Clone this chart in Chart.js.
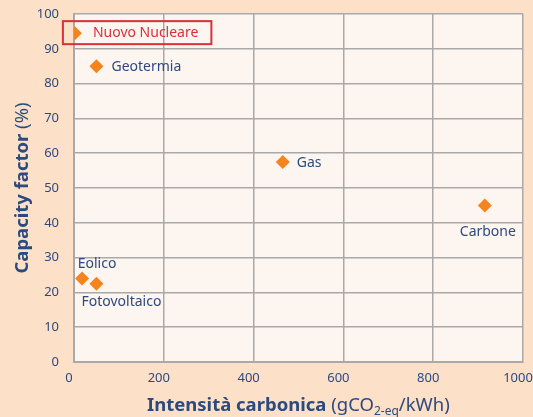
<!DOCTYPE html>
<html>
<head>
<meta charset="utf-8">
<script src="https://cdn.jsdelivr.net/npm/chart.js@4"></script>
<style>
  html, body { margin: 0; padding: 0; background: #fde0c8; }
  #wrap { width: 533px; height: 417px; }
</style>
</head>
<body>
<div id="wrap"><canvas id="cfChart" width="533" height="417"></canvas></div>
<script>
// data
const sources = ['Nuovo Nucleare', 'Geotermia', 'Gas', 'Carbone', 'Eolico', 'Fotovoltaico']
const carbonIntensity = [2, 50, 465, 915, 18, 50]
const capacityFactor = [94.5, 85, 57.5, 45, 24, 22.5]
const xTicks = [0, 200, 400, 600, 800, 1000]
const yTicks = [0, 10, 20, 30, 40, 50, 60, 70, 80, 90, 100]

const blue = '#2b4a7f'
const red = '#d9303a'
const font = '"Noto Sans", "Open Sans", sans-serif'

// where each label sits relative to its point
const labelPos = {
  'Nuovo Nucleare': {dx: 18, dy: 0, align: 'left'},
  'Geotermia': {dx: 15, dy: 1, align: 'left'},
  'Gas': {dx: 14, dy: 1, align: 'left'},
  'Carbone': {dx: 3, dy: 27, align: 'center'},
  'Eolico': {dx: 15, dy: -14, align: 'center'},
  'Fotovoltaico': {dx: 25, dy: 18, align: 'center'}
}

const points = carbonIntensity.map((x, i) => ({x: x, y: capacityFactor[i]}))

const backdrop = {
  id: 'backdrop',
  beforeDraw(chart) {
    const {ctx, chartArea: a} = chart
    ctx.save()
    ctx.fillStyle = '#fdf5ef'
    ctx.fillRect(a.left, a.top, a.right - a.left, a.bottom - a.top)
    ctx.restore()
  }
}

const labels = {
  id: 'labels',
  afterDatasetsDraw(chart) {
    const ctx = chart.ctx
    const xs = chart.scales.x, ys = chart.scales.y
    ctx.save()
    ctx.font = '14px ' + font
    ctx.textBaseline = 'middle'
    sources.forEach((name, i) => {
      const p = labelPos[name]
      const px = xs.getPixelForValue(carbonIntensity[i]) + p.dx
      const py = ys.getPixelForValue(capacityFactor[i]) + p.dy
      ctx.textAlign = p.align
      if (name === 'Nuovo Nucleare') {
        ctx.fillStyle = red
        ctx.fillText(name, px, py)
        const w = ctx.measureText(name).width
        ctx.strokeStyle = red
        ctx.lineWidth = 2
        ctx.strokeRect(xs.getPixelForValue(carbonIntensity[i]) - 12, py - 12, w + 43, 23)
      } else {
        ctx.fillStyle = blue
        ctx.fillText(name, px, py)
      }
    })
    ctx.restore()
  },
  afterDraw(chart) {
    // axis titles with mixed weights and a subscript
    const ctx = chart.ctx
    const a = chart.chartArea
    const big = '18.5px '
    ctx.save()
    ctx.fillStyle = blue
    ctx.textBaseline = 'alphabetic'
    ctx.textAlign = 'left'

    let x = 147, y = 411
    ctx.font = 'bold ' + big + font
    ctx.fillText('Intensità carbonica', x, y)
    x += ctx.measureText('Intensità carbonica ').width
    ctx.font = big + font
    ctx.fillText('(gCO', x, y)
    x += ctx.measureText('(gCO').width
    ctx.font = '12px ' + font
    ctx.fillText('2-eq', x, y + 4)
    x += ctx.measureText('2-eq').width
    ctx.font = big + font
    ctx.fillText('/kWh)', x, y)

    ctx.translate(28, (a.top + a.bottom) / 2)
    ctx.rotate(-Math.PI / 2)
    const t1 = 'Capacity factor '
    ctx.font = big + font
    const w2 = ctx.measureText('(%)').width
    ctx.font = 'bold ' + big + font
    const w1 = ctx.measureText(t1).width
    const start = -(w1 + w2) / 2
    ctx.fillText(t1, start, 0)
    ctx.font = big + font
    ctx.fillText('(%)', start + w1, 0)
    ctx.restore()
  }
}

new Chart(document.getElementById('cfChart'), {
  type: 'scatter',
  data: {
    datasets: [{
      data: points,
      pointStyle: 'rectRot',
      pointRadius: 7,
      pointHoverRadius: 7,
      backgroundColor: '#f5841f',
      borderColor: '#f5841f',
      borderWidth: 0
    }]
  },
  options: {
    responsive: false,
    animation: false,
    layout: {padding: {top: 14, right: 10, left: 0, bottom: 0}},
    plugins: {legend: {display: false}, tooltip: {enabled: false}},
    scales: {
      x: {
        type: 'linear', min: 0, max: 1000,
        afterBuildTicks: (s) => { s.ticks = xTicks.map(v => ({value: v})) },
        afterFit: (s) => { s.height = 55; s.paddingLeft = 0; s.paddingRight = 0 },
        grid: {color: '#a9a9a9', lineWidth: 1.5, drawTicks: false},
        border: {color: '#a9a9a9', width: 2},
        ticks: {color: blue, padding: 8, labelOffset: -5, font: {family: font, size: 13}, callback: (v) => String(v)}
      },
      y: {
        type: 'linear', min: 0, max: 100,
        afterBuildTicks: (s) => { s.ticks = yTicks.map(v => ({value: v})) },
        afterFit: (s) => { s.width = 74; s.paddingTop = 0; s.paddingBottom = 0 },
        grid: {color: '#a9a9a9', lineWidth: 1.5, drawTicks: false},
        border: {color: '#a9a9a9', width: 2},
        ticks: {color: blue, padding: 15, font: {family: font, size: 13}, callback: (v) => String(v)}
      }
    }
  },
  plugins: [backdrop, labels]
})
</script>
</body>
</html>
